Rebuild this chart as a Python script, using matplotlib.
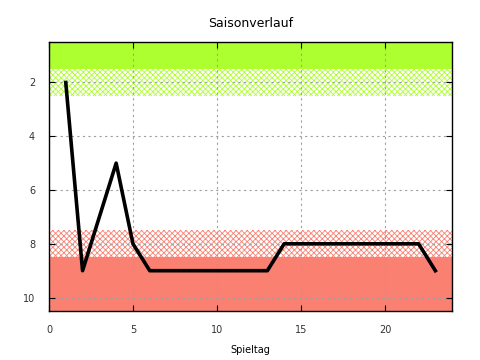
import matplotlib
matplotlib.use('Agg')
import matplotlib.pyplot as plt

spieltag = list(range(1, 24))
platz = [2, 9, 7, 5, 8, 9, 9, 9, 9, 9, 9, 9, 9, 8, 8, 8, 8, 8, 8, 8, 8, 8, 9]

plt.rcParams['font.family'] = 'DejaVu Sans'
plt.rcParams['hatch.linewidth'] = 0.6

fig = plt.figure(figsize=(4.8, 3.6), dpi=100)
ax = fig.add_axes([0.102, 0.136, 0.840, 0.747])

# Zonen
ax.axhspan(0.5, 1.5, facecolor='#adff2f', edgecolor='none', zorder=0)
ax.axhspan(1.5, 2.5, facecolor='white', edgecolor='#adff2f', hatch='xxxxxx', linewidth=0, zorder=0)
ax.axhspan(7.5, 8.5, facecolor='white', edgecolor='#fa8072', hatch='xxxxxx', linewidth=0, zorder=0)
ax.axhspan(8.5, 10.5, facecolor='#fa8072', edgecolor='none', zorder=0)

ax.plot(spieltag, platz, color='black', linewidth=2.6, zorder=3)

ax.set_xlim(0, 24)
ax.set_ylim(10.5, 0.5)
ax.set_xticks([0, 5, 10, 15, 20])
ax.set_yticks([2, 4, 6, 8, 10])
ax.grid(True, color='#a0a0a0', linestyle=(0, (2, 3)), linewidth=0.8, zorder=1)
ax.set_axisbelow(False)
ax.tick_params(direction='in', length=4, top=True, right=True, labelsize=7, colors='black', labelcolor='#333333', pad=10)
for s in ax.spines.values():
    s.set_linewidth(1.0)
    s.set_zorder(5)

ax.set_title('Saisonverlauf', fontsize=9, pad=11)
ax.set_xlabel('Spieltag', fontsize=7, labelpad=7)

fig.savefig('out.png', dpi=100)
